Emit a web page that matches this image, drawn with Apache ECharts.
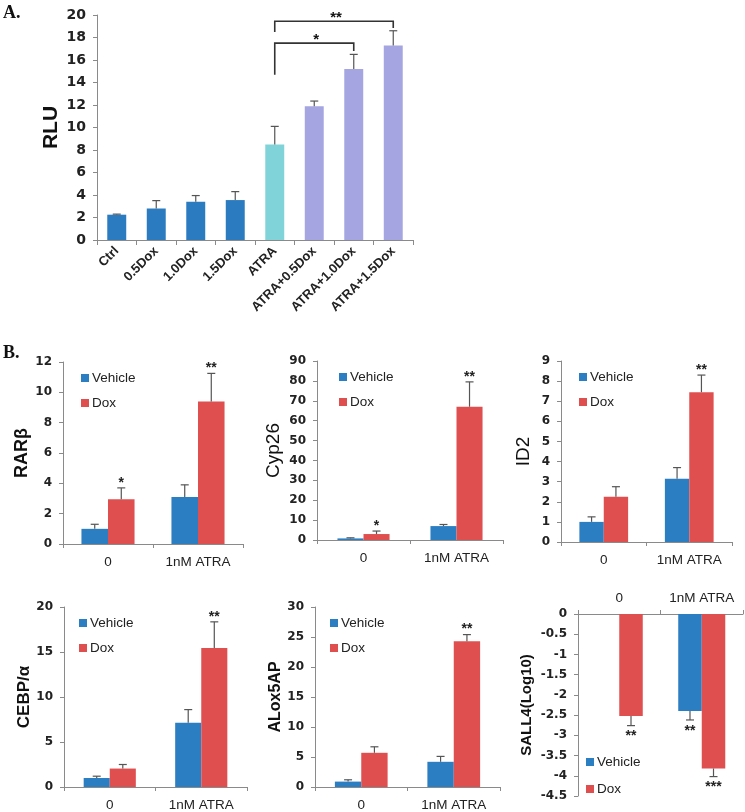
<!DOCTYPE html>
<html><head><meta charset="utf-8">
<script src="https://cdn.jsdelivr.net/npm/echarts@6/dist/echarts.min.js"></script>
<style>html,body{margin:0;padding:0;background:#fff}#c{width:745px;height:812px}</style>
</head><body><div id="c"></div>
<script>
// ---------- Panel A data ----------
const catsA = ['Ctrl','0.5Dox','1.0Dox','1.5Dox','ATRA','ATRA+0.5Dox','ATRA+1.0Dox','ATRA+1.5Dox'];
const rluValues = [2.25, 2.8, 3.4, 3.55, 8.5, 11.9, 15.2, 17.3];
const rluErrors = [0.05, 0.7, 0.55, 0.75, 1.6, 0.45, 1.3, 1.3];
const rluTicks = [0, 20, 2];
// significance brackets (category positions, value levels)
const bracketLeft = [3.92, 3.8];
const bracketRight = [6, 7];
const bracketTop = [17.5, 19.45];
const bracketLeftEnd = [14.7, 18.5];
const bracketRightEnd = [16.8, 18.85];
const bracketLabel = ['*', '**'];

// ---------- Panel B data ----------
const catsB = ['0', '1nM ATRA'];
const groupNames = ['Vehicle', 'Dox'];

const rarbVehicle = [1.0, 3.1], rarbVehicleErr = [0.3, 0.8], rarbVehicleSig = ['', ''];
const rarbDox = [2.95, 9.4], rarbDoxErr = [0.75, 1.85], rarbDoxSig = ['*', '**'];

const cypVehicle = [0.8, 7.0], cypVehicleErr = [0.3, 0.8], cypVehicleSig = ['', ''];
const cypDox = [3.0, 67], cypDoxErr = [1.5, 12.5], cypDoxSig = ['*', '**'];

const id2Vehicle = [1.0, 3.15], id2VehicleErr = [0.25, 0.55], id2VehicleSig = ['', ''];
const id2Dox = [2.25, 7.45], id2DoxErr = [0.5, 0.85], id2DoxSig = ['', '**'];

const cebpVehicle = [1.0, 7.15], cebpVehicleErr = [0.2, 1.45], cebpVehicleSig = ['', ''];
const cebpDox = [2.05, 15.45], cebpDoxErr = [0.45, 2.9], cebpDoxSig = ['', '**'];

const aloxVehicle = [0.9, 4.2], aloxVehicleErr = [0.3, 0.9], aloxVehicleSig = ['', ''];
const aloxDox = [5.7, 24.3], aloxDoxErr = [1.0, 1.1], aloxDoxSig = ['', '**'];

const sallVehicle = [0, -2.4], sallVehicleErr = [0, 0.22], sallVehicleSig = ['', '**'];
const sallDox = [-2.52, -3.82], sallDoxErr = [0.24, 0.2], sallDoxSig = ['**', '***'];

// ---------- styles ----------
const FONT = "'Liberation Sans', Arial, sans-serif";
const TICKFONT = "'DejaVu Sans', 'Liberation Sans', sans-serif";
const colorsA = ['#2a7bbf','#2a7bbf','#2a7bbf','#2a7bbf','#80d3d8','#a5a5e1','#a5a5e1','#a5a5e1'];
const BLUE = '#2b7ec2', RED = '#e04f4f';
const AXIS = '#8a8a8a', ERR = '#555';

const chart = echarts.init(document.getElementById('c'), null, {renderer: 'canvas'});

const grids = [], xAxes = [], yAxes = [], series = [], legends = [];

function errorSeries(gi, vals, errs, sigs, slot, nSlots, gapFrac) {
  return {
    type: 'custom', xAxisIndex: gi, yAxisIndex: gi, z: 5, clip: false, silent: true,
    data: vals.map((v, i) => [i, v]),
    renderItem: (params, api) => {
      const i = params.dataIndex;
      const v = vals[i], e = errs[i], s = sigs ? sigs[i] : '';
      const band = api.size([1, 0])[0];
      const w = band * (1 - gapFrac) / nSlots;
      const off = (slot - (nSlots - 1) / 2) * w;
      const dir = v < 0 ? -1 : 1;
      const base = api.coord([i, v]);
      const tip = api.coord([i, v + dir * e]);
      const x = base[0] + off;
      const ch = [];
      if (e > 0) {
        ch.push({type: 'line', shape: {x1: x, y1: base[1], x2: x, y2: tip[1]}, style: {stroke: ERR, lineWidth: 1.2}});
        ch.push({type: 'line', shape: {x1: x - 4, y1: tip[1], x2: x + 4, y2: tip[1]}, style: {stroke: ERR, lineWidth: 1.2}});
      }
      if (s) ch.push({type: 'text', x: x, y: dir > 0 ? tip[1] - 5 : tip[1] + 11,
        style: {text: s, fill: '#222', font: 'bold 14px ' + FONT, align: 'center', verticalAlign: 'middle'}});
      return {type: 'group', children: ch};
    }
  };
}

// ---------- Panel A ----------
grids.push({left: 97, top: 15, width: 316, height: 225});
xAxes.push({gridIndex: 0, type: 'category', data: catsA,
  axisLine: {lineStyle: {color: AXIS}}, axisTick: {show: true, length: 5, lineStyle: {color: AXIS}},
  axisLabel: {rotate: 45, color: '#222', fontFamily: FONT, fontWeight: 'bold', fontSize: 13, margin: 9, interval: 0}});
yAxes.push({gridIndex: 0, type: 'value', min: rluTicks[0], max: rluTicks[1], interval: rluTicks[2],
  name: 'RLU', nameLocation: 'middle', nameGap: 35, nameRotate: 90,
  nameTextStyle: {fontFamily: FONT, fontWeight: 'bold', fontSize: 21, color: '#111'},
  splitLine: {show: false}, axisLine: {show: true, lineStyle: {color: AXIS}},
  axisTick: {show: true, length: 4, lineStyle: {color: AXIS}},
  axisLabel: {color: '#222', fontFamily: TICKFONT, fontWeight: 'bold', fontSize: 14, margin: 11}});
series.push({type: 'bar', name: 'RLU', xAxisIndex: 0, yAxisIndex: 0, barCategoryGap: '52%',
  data: rluValues.map((v, i) => ({value: v, itemStyle: {color: colorsA[i]}}))});
series.push(errorSeries(0, rluValues, rluErrors, null, 0, 1, 0.52));
series.push({
  type: 'custom', xAxisIndex: 0, yAxisIndex: 0, z: 6, clip: false, silent: true,
  data: bracketTop.map((t, i) => [bracketLeft[i], t]),
  renderItem: (params, api) => {
    const i = params.dataIndex;
    const pL = api.coord([bracketLeft[i], bracketTop[i]]);
    const pR = api.coord([bracketRight[i], bracketTop[i]]);
    const pLE = api.coord([bracketLeft[i], bracketLeftEnd[i]]);
    const pRE = api.coord([bracketRight[i], bracketRightEnd[i]]);
    const st = {stroke: '#333', lineWidth: 1.6, fill: null};
    return {type: 'group', children: [
      {type: 'polyline', shape: {points: [[pLE[0], pLE[1]], [pL[0], pL[1]], [pR[0], pR[1]], [pRE[0], pRE[1]]]}, style: st},
      {type: 'text', x: (pL[0] + pR[0]) / 2 + 2, y: pL[1] - 3,
        style: {text: bracketLabel[i], fill: '#111', font: 'bold 15px ' + FONT, align: 'center', verticalAlign: 'middle'}}
    ]};
  }
});

// ---------- Panel B ----------
const panels = [
  {rect: {left: 63, top: 362, width: 180, height: 182}, name: 'RARβ', bold: true, nameSize: 18, gap: 29, min: 0, max: 12, interval: 2,
   veh: rarbVehicle, vehErr: rarbVehicleErr, vehSig: rarbVehicleSig, dox: rarbDox, doxErr: rarbDoxErr, doxSig: rarbDoxSig, legend: {left: 81, top: 371}, gapFrac: 0.41},
  {rect: {left: 317, top: 361, width: 186, height: 179}, name: 'Cyp26', bold: false, nameSize: 19, gap: 34, min: 0, max: 90, interval: 10,
   veh: cypVehicle, vehErr: cypVehicleErr, vehSig: cypVehicleSig, dox: cypDox, doxErr: cypDoxErr, doxSig: cypDoxSig, legend: {left: 339, top: 370}, gapFrac: 0.44},
  {rect: {left: 561, top: 361, width: 171, height: 181}, name: 'ID2', bold: false, nameSize: 19, gap: 28, min: 0, max: 9, interval: 1,
   veh: id2Vehicle, vehErr: id2VehicleErr, vehSig: id2VehicleSig, dox: id2Dox, doxErr: id2DoxErr, doxSig: id2DoxSig, legend: {left: 579, top: 370}, gapFrac: 0.43},
  {rect: {left: 64, top: 607, width: 183, height: 184}, name: 'CEBP/α', bold: true, nameSize: 17, gap: 30, min: 0, max: 20, interval: 5,
   veh: cebpVehicle, vehErr: cebpVehicleErr, vehSig: cebpVehicleSig, dox: cebpDox, doxErr: cebpDoxErr, doxSig: cebpDoxSig, legend: {left: 79, top: 616}, gapFrac: 0.43},
  {rect: {left: 315, top: 607, width: 185, height: 184}, name: 'ALox5AP', bold: true, nameSize: 16, gap: 28, min: 0, max: 30, interval: 5,
   veh: aloxVehicle, vehErr: aloxVehicleErr, vehSig: aloxVehicleSig, dox: aloxDox, doxErr: aloxDoxErr, doxSig: aloxDoxSig, legend: {left: 330, top: 616}, gapFrac: 0.43},
  {rect: {left: 578, top: 614, width: 165, height: 182}, name: 'SALL4(Log10)', bold: true, nameSize: 15, gap: 44, min: -4.5, max: 0, interval: 0.5, top: true,
   veh: sallVehicle, vehErr: sallVehicleErr, vehSig: sallVehicleSig, dox: sallDox, doxErr: sallDoxErr, doxSig: sallDoxSig, legend: {left: 586, top: 755, itemGap: 13}, gapFrac: 0.43}
];

panels.forEach((p, k) => {
  const gi = k + 1;
  grids.push(p.rect);
  xAxes.push({gridIndex: gi, type: 'category', data: catsB, position: p.top ? 'top' : 'bottom',
    axisLine: {onZero: false, lineStyle: {color: AXIS}}, axisTick: {show: true, length: 4, lineStyle: {color: AXIS}},
    axisLabel: {color: '#222', fontFamily: FONT, fontSize: 13.5, margin: p.top ? 9 : 11, interval: 0, hideOverlap: false}});
  yAxes.push({gridIndex: gi, type: 'value', min: p.min, max: p.max, interval: p.interval,
    name: p.name, nameLocation: 'middle', nameGap: p.gap, nameRotate: 90,
    nameTextStyle: {fontFamily: FONT, fontWeight: p.bold ? 'bold' : 'normal', fontSize: p.nameSize, color: '#111'},
    splitLine: {show: false}, axisLine: {show: true, lineStyle: {color: AXIS}},
    axisTick: {show: true, length: 4, lineStyle: {color: AXIS}},
    axisLabel: {color: '#222', fontFamily: TICKFONT, fontWeight: 'bold', fontSize: 12, margin: 11}});
  const gapPct = Math.round(p.gapFrac * 100) + '%';
  series.push({type: 'bar', name: groupNames[0], xAxisIndex: gi, yAxisIndex: gi, barGap: '0%', barCategoryGap: gapPct,
    itemStyle: {color: BLUE}, data: p.veh});
  series.push({type: 'bar', name: groupNames[1], xAxisIndex: gi, yAxisIndex: gi, barGap: '0%', barCategoryGap: gapPct,
    itemStyle: {color: RED}, data: p.dox});
  series.push(errorSeries(gi, p.veh, p.vehErr, p.vehSig, 0, 2, p.gapFrac));
  series.push(errorSeries(gi, p.dox, p.doxErr, p.doxSig, 1, 2, p.gapFrac));
  legends.push({data: groupNames, left: p.legend.left, top: p.legend.top, orient: 'vertical', padding: 0,
    itemGap: p.legend.itemGap || 11, itemWidth: 8, itemHeight: 8, icon: 'rect', itemStyle: {borderWidth: 0},
    textStyle: {fontFamily: FONT, fontSize: 13.5, color: '#222', padding: [0, 0, 0, -2]}, selectedMode: false});
});

chart.setOption({
  backgroundColor: '#fff',
  animation: false,
  color: [BLUE, RED],
  grid: grids, xAxis: xAxes, yAxis: yAxes, series: series, legend: legends,
  graphic: [
    {type: 'text', left: 3, top: 4, style: {text: 'A.', font: "bold 18px 'Liberation Serif', 'Times New Roman', serif", fill: '#111'}},
    {type: 'text', left: 3, top: 344, style: {text: 'B.', font: "bold 18px 'Liberation Serif', 'Times New Roman', serif", fill: '#111'}}
  ]
});
</script></body></html>
